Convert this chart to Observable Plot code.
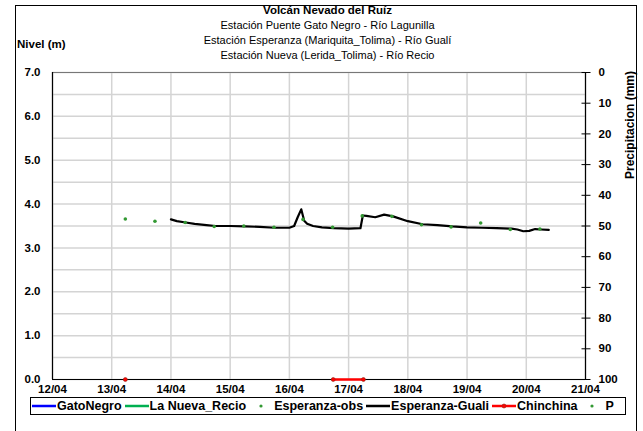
<!DOCTYPE html>
<html><head><meta charset="utf-8">
<script src="https://cdn.jsdelivr.net/npm/d3@7"></script>
<script src="https://cdn.jsdelivr.net/npm/@observablehq/plot@0.6"></script>
<style>
body{margin:0;background:#fff;font-family:"Liberation Sans",Arial,sans-serif;}
#wrap{position:relative;width:643px;height:431px;overflow:hidden;}
#frame{position:absolute;left:15px;top:5px;width:622px;height:430px;border:1px solid #000;box-sizing:border-box;}
.t{position:absolute;white-space:nowrap;color:#000;}
#legend{position:absolute;left:30px;top:397px;width:596px;height:18px;border:1px solid #000;box-sizing:border-box;overflow:hidden;font-weight:bold;font-size:12.5px;white-space:nowrap;padding-left:1px;}
#legend span.it{display:inline-flex;align-items:center;margin-right:3px;height:16px;}
#legend svg{margin-right:1px;}
</style></head>
<body><div id="wrap"><div id="frame"></div><div id="chart"></div>
<div class="t" style="left:0;width:655px;text-align:center;top:4px;font-weight:bold;font-size:11.5px;">Volcán Nevado del Ruíz</div>
<div class="t" style="left:0;width:655px;text-align:center;top:19px;font-size:11px;">Estación Puente Gato Negro - Río Lagunilla</div>
<div class="t" style="left:0;width:655px;text-align:center;top:34px;font-size:11px;">Estación Esperanza (Mariquita_Tolima) - Río Gualí</div>
<div class="t" style="left:0;width:655px;text-align:center;top:49px;font-size:11px;">Estación Nueva (Lerida_Tolima) - Río Recio</div>
<div class="t" style="left:17px;top:38px;font-weight:bold;font-size:11.5px;">Nivel (m)</div>
<div class="t" style="left:630px;top:125px;font-weight:bold;font-size:12px;transform:translate(-50%,-50%) rotate(-90deg);">Precipitacion (mm)</div>
<div id="legend"></div>
</div>
<script>
// ---- data ----
const dayTicks = [12,13,14,15,16,17,18,19,20,21];
const levelTicks = [0,1,2,3,4,5,6,7];
const gridLevels = [0,0.5,1,1.5,2,2.5,3,3.5,4,4.5,5,5.5,6,6.5,7];
const precipTicks = [0,10,20,30,40,50,60,70,80,90,100];

const gualiT = [14.0,14.1,14.25,14.4,14.6,14.75,15.0,15.25,15.5,15.75,16.0,16.08,16.14,16.2,16.25,16.3,16.4,16.55,16.75,17.0,17.2,17.24,17.3,17.45,17.6,17.75,18.0,18.25,18.5,18.75,19.0,19.25,19.5,19.75,19.85,19.95,20.05,20.15,20.25,20.38];
const gualiV = [3.65,3.61,3.58,3.55,3.52,3.50,3.50,3.49,3.48,3.46,3.46,3.50,3.70,3.88,3.62,3.55,3.50,3.47,3.45,3.44,3.45,3.74,3.73,3.70,3.76,3.72,3.61,3.54,3.52,3.49,3.47,3.46,3.45,3.44,3.42,3.38,3.39,3.43,3.42,3.41];

const obsT = [13.23,13.73,14.24,14.73,15.23,15.74,16.23,16.73,17.23,17.73,18.23,18.73,19.23,19.73,20.23];
const obsV = [3.66,3.61,3.58,3.49,3.50,3.47,3.65,3.47,3.73,3.72,3.53,3.48,3.57,3.42,3.43];

const chinT = [13.23,16.74,17.25];
const chinV = [0,0,0];
const chinSeg = ["a","b","b"];

const legendItems = [
  {name:"GatoNegro", color:"#0000ff", kind:"line"},
  {name:"La Nueva_Recio", color:"#00b050", kind:"line"},
  {name:"Esperanza-obs", color:"#339933", kind:"dot"},
  {name:"Esperanza-Guali", color:"#000000", kind:"line"},
  {name:"Chinchina", color:"#ff0000", kind:"linedot"},
  {name:"P", color:"#339933", kind:"dot"}
];

const guali = gualiT.map((t,i)=>({t, v:gualiV[i]}));
const obs = obsT.map((t,i)=>({t, v:obsV[i]}));
const chin = chinT.map((t,i)=>({t, v:chinV[i], s:chinSeg[i]}));
const p2y = p => 7 - p*0.07;

const chart = Plot.plot({
  width: 643, height: 431,
  marginLeft: 52, marginRight: 58, marginTop: 72, marginBottom: 52,
  style: {fontFamily:'"Liberation Sans",Arial,sans-serif', fontSize:"11.5px", fontWeight:"bold", color:"#000", background:"transparent"},
  x: {domain:[12,21], label:null},
  y: {domain:[0,7], label:null},
  marks: [
    Plot.gridY(gridLevels, {stroke:"#d4d4d4", strokeOpacity:1, strokeWidth:1.5}),
    Plot.gridX(dayTicks, {stroke:"#d4d4d4", strokeOpacity:1, strokeWidth:1.5}),
    Plot.ruleY([7], {stroke:"#777", strokeWidth:1}),
    Plot.ruleY([0], {stroke:"#000", strokeWidth:1.2}),
    Plot.ruleX([12, 21], {stroke:"#000", strokeWidth:1.2}),
    Plot.axisY(levelTicks, {anchor:"left", tickSize:0, tickPadding:12, tickFormat:d=>d.toFixed(1), fontWeight:"bold"}),
    Plot.axisX(dayTicks, {anchor:"bottom", tickSize:0, tickPadding:5, tickFormat:d=>String(d).padStart(2,"0")+"/04", fontWeight:"bold"}),
    Plot.axisY(precipTicks.map(p2y), {anchor:"right", tickSize:9, dx:-4.5, tickFormat:()=>"", stroke:"#000"}),
    Plot.axisY(precipTicks.map(p2y), {anchor:"right", tickSize:0, tickPadding:13, tickFormat:y=>String(Math.round((7-y)/0.07)), fontWeight:"bold"}),
    Plot.line(guali, {x:"t", y:"v", stroke:"#000", strokeWidth:2.2, curve:"linear"}),
    Plot.dot(obs, {x:"t", y:"v", r:1.8, fill:"#339933", stroke:null}),
    Plot.line(chin, {x:"t", y:"v", z:"s", stroke:"#ff0000", strokeWidth:2.5}),
    Plot.dot(chin, {x:"t", y:"v", r:2, fill:"#ff0000", stroke:"#8a2a1a", strokeWidth:0.6})
  ]
});
document.getElementById("chart").appendChild(chart);

// legend
const lg = document.getElementById("legend");
legendItems.forEach(it => {
  const s = document.createElement("span"); s.className = "it";
  let sw;
  if (it.kind === "line") sw = `<svg width="24" height="10"><line x1="0" x2="24" y1="5" y2="5" stroke="${it.color}" stroke-width="2.5"/></svg>`;
  else if (it.kind === "linedot") sw = `<svg width="24" height="10"><line x1="0" x2="24" y1="5" y2="5" stroke="${it.color}" stroke-width="2.5"/><circle cx="12" cy="5" r="2" fill="${it.color}" stroke="#8a2a1a" stroke-width="0.6"/></svg>`;
  else sw = `<svg width="24" height="10"><circle cx="12" cy="5" r="1.6" fill="${it.color}"/></svg>`;
  s.innerHTML = sw + `<span>${it.name}</span>`;
  lg.appendChild(s);
});
</script></body></html>
